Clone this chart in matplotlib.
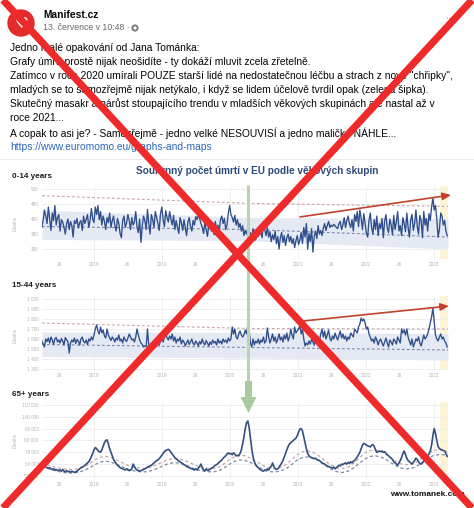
import matplotlib
matplotlib.use('Agg')
import matplotlib.pyplot as plt
import numpy as np
import pandas as pd
from matplotlib.patches import Circle, Polygon, Rectangle
from matplotlib.ticker import FuncFormatter

# ---------------- data ----------------
start_week = '2017-03-27'   # Monday of ISO week 13 / 2017, weekly data

deaths_0_14 = [
    373, 395, 430, 410, 385, 440, 400, 362, 420, 395, 445, 380, 405, 415, 360, 398, 390, 372, 350, 385,
    400, 365, 392, 378, 340, 395, 385, 402, 370, 388, 395, 362, 410, 385, 398, 415, 372, 395, 435, 400, 388,
    440, 415, 445, 398, 425, 380, 410, 392, 365, 405, 388, 420, 372, 395, 410, 378, 360, 402, 385, 352,
    338, 395, 410, 372, 388, 415, 395, 365, 405, 380, 390, 425, 372, 355, 400, 322, 378, 410, 395, 365,
    432, 385, 350, 415, 398, 372, 425, 405, 385, 362, 418, 440, 398, 375, 428, 405, 390,
    425, 400, 380, 412, 365, 395, 372, 352, 405, 388, 362, 398, 370, 345, 390, 405, 375, 360, 395, 380,
    408, 398, 415, 402, 385, 372, 352, 388, 365, 342, 378, 395, 360, 372, 348, 392, 365, 380, 355, 398,
    410, 385, 402, 365, 380, 420, 445, 415,
    405, 390, 412, 380, 398, 372, 385, 360, 378, 345, 362, 350, 372, 340, 355, 335, 368, 348, 330, 360,
    342, 375, 352, 338, 392, 365, 345, 372, 340, 358, 325, 348, 332, 360, 318, 342, 300, 338, 355, 322,
    345, 312, 338, 350, 325, 342, 318, 335, 305, 328, 345, 315,
    330, 355, 318, 372, 340, 385, 300, 352, 325, 368, 290, 342, 360, 335, 378, 350, 362, 345, 370, 385,
    362, 378, 392, 372, 380, 375, 382, 378, 372, 368, 385, 392, 365, 380, 405, 372, 395, 410, 385, 372,
    398, 360, 415, 392, 425, 375, 430, 402, 365, 418, 388, 352,
    340, 395, 420, 372, 350, 398, 365, 410, 345, 385, 368, 402, 338, 392, 415, 370, 355, 400, 380, 348,
    412, 365, 392, 425, 360, 378, 345, 405, 385, 358, 420, 372, 340, 398, 415, 362, 385, 430, 375, 350,
    412, 395, 338, 425, 380, 402, 360, 418, 395, 440, 470, 430,
    445, 400, 340, 365, 420, 410, 380, 395, 360, 345]

deaths_15_44 = [
    1580, 1550, 1520, 1600, 1575, 1610, 1560, 1620, 1590, 1545, 1600, 1615, 1570, 1590, 1560, 1605, 1580,
    1540, 1615, 1590, 1575, 1460, 1560, 1590, 1570, 1610, 1555, 1595, 1580, 1540, 1600, 1620, 1575, 1560,
    1590, 1545, 1600, 1580, 1620, 1590, 1640,
    1700, 1740, 1680, 1650, 1720, 1660, 1690, 1630, 1610, 1700,
    1640, 1610, 1585, 1620, 1600, 1570, 1610, 1590, 1640, 1580,
    1600, 1560, 1620, 1590, 1575, 1610, 1650, 1620, 1590, 1600, 1570, 1620,
    1700, 1640, 1590, 1560, 1545, 1520, 1530, 1525, 1700,
    1540, 1525, 1520, 1535, 1550, 1530, 1545, 1560, 1540, 1580, 1600, 1570, 1620, 1650, 1610, 1590,
    1630, 1600, 1650, 1580, 1620, 1560, 1600, 1580, 1620, 1550, 1590, 1570, 1530, 1560, 1590, 1545,
    1570, 1600, 1555, 1540, 1580, 1560, 1530, 1575, 1550, 1600, 1560, 1540, 1585, 1560, 1530, 1570,
    1545, 1590, 1560, 1575, 1540, 1600, 1560, 1580, 1550, 1600, 1570, 1590, 1560, 1610, 1580, 1600,
    1720, 1650, 1700, 1620, 1600, 1650, 1680, 1640, 1620, 1640, 1690, 1650, 1740, 1680, 1560, 1520,
    1600, 1540, 1580, 1560, 1600, 1550, 1590, 1570, 1620, 1560, 1580, 1710, 1620, 1560, 1600, 1650,
    1580, 1620, 1560, 1600, 1650, 1590, 1620, 1570, 1640, 1600, 1660, 1580, 1620, 1700, 1640, 1600,
    1720, 1660, 1680, 1700,
    1730, 1650, 1700, 1600, 1530, 1560, 1540, 1580, 1550, 1600, 1570, 1540, 1590, 1560, 1620, 1580,
    1650, 1700, 1620, 1680, 1600, 1640, 1690, 1610, 1580, 1630, 1600, 1660, 1620, 1590, 1640, 1680,
    1610, 1650, 1600, 1630, 1580, 1620, 1600, 1660, 1640, 1620, 1700, 1680, 1660, 1720, 1750, 1810,
    1780, 1800, 1760, 1700,
    1720, 1650, 1620, 1580, 1600, 1560, 1620, 1590, 1540, 1580, 1600, 1560, 1530, 1570, 1610, 1560,
    1520, 1590, 1570, 1540, 1600, 1580, 1550, 1620, 1590, 1560, 1700, 1660, 1690, 1640, 1700, 1620,
    1580, 1540, 1600, 1520, 1560, 1600, 1580, 1620, 1560, 1530, 1580, 1640, 1600, 1620, 1650, 1700,
    1760, 1820, 1910, 1780,
    1640, 1600, 1580, 1620, 1650, 1600, 1620, 1580, 1560, 1520]

deaths_65_k = [   # thousands
    59.5, 58.5, 58, 57.5, 57, 56.5, 57, 56, 55.5, 56, 55, 55.5, 54.5, 55,
    55, 54, 55.5, 54, 53.5, 54.5, 53.5, 54, 53, 54, 53.5, 53, 53.5,
    54, 55, 56, 57, 57.5, 58, 59, 60, 61, 62,
    64, 66.5, 69, 72, 74, 73, 71.5, 70.5, 70, 72, 75, 78, 80, 80.5,
    77, 73, 70, 67, 64, 62, 60.5, 59, 58,
    57, 56.5, 56, 55.5, 55, 56, 55, 54.5, 55, 56, 60, 58, 56, 55, 54.5, 54, 54.5,
    55, 55.5, 56, 56.5, 57.5, 58, 58.5, 59, 60, 61, 62, 63, 63.5, 64.5, 66,
    67.5, 69, 70.5, 71.5, 72, 72.5,
    71.5, 70, 68.5, 67, 65.5, 64.5, 63.5, 62.5, 62,
    61, 60.5, 59.5, 59, 58, 57.5, 57, 56.5,
    56, 55.5, 55, 56, 55, 56.5, 58, 60, 57, 55, 54.5, 56, 54.5, 55, 55.5,
    56.5, 57, 58, 59, 59.5, 60.5, 61.5, 62.5, 63.5, 65, 66, 67, 68.5, 69.5, 68.5, 69,
    68, 69.5, 68.5, 67, 67.5, 67,
    69, 72, 77, 83, 90, 95, 96.5, 91, 82, 73, 66, 62, 59.5, 58, 57,
    56, 55, 54.5, 54, 55, 54.5, 56, 55, 57, 58, 61,
    58, 56, 55.5, 56, 57.5, 59, 61, 63, 66, 69,
    72, 75, 77, 78, 79, 80, 81, 82, 84, 87, 89.5, 90, 88,
    83, 78, 73, 69, 67, 66, 65.5, 65, 64.5, 65, 64, 63.5, 63, 62,
    61, 60.5, 60, 59, 58.5, 58, 57.5,
    57, 56.5, 57.5, 56, 57, 58, 59, 58.5, 60, 59.5, 60.5, 61, 60,
    61.5, 60.5, 62, 61, 62.5, 63, 64.5, 66, 68, 70,
    73, 76, 77.5, 77, 76, 75.5, 75, 74.5, 76, 76.5, 75, 72,
    70, 70.5, 71, 70.5, 71, 70, 70.5, 69,
    68, 67, 66, 65, 64, 62, 61, 60, 59,
    61, 63, 65.5, 69, 71, 68, 65, 63, 62, 61, 60,
    61.5, 63, 65, 64, 62, 60.5,
    60, 61, 62.5, 64, 65.5, 67, 68.5, 71,
    76, 84, 90, 86, 80, 75, 73, 72.5,
    72, 71.5, 71, 69, 66.5]

# reference lines (0-14 and 15-44): values at these dates
ref_years = [2017.235, 2020.3, 2023.206]
p1_upper = [478, 452, 442]
p1_base = [375, 365, 340]
p1_band_hi = [430, 405, 402]
p1_band_lo = [332, 328, 300]
p2_upper = [1760, 1705, 1700]
p2_base = [1545, 1515, 1490]
p2_band_hi = [1670, 1665, 1655]
p2_band_lo = [1425, 1410, 1390]

# 65+ seasonal baseline / threshold (thousands), sampled every 4 weeks
base65_week = list(range(0, 309, 4)) + [311]
base65_lower = [58, 56.5, 55, 54, 53, 52.5, 52.5, 53, 54.5, 56.5, 59, 61.5, 62.5, 62, 60.5, 58.5,
                56.5, 55, 54, 53.5, 53.5, 54.5, 56, 58, 60, 61, 61, 60, 58.5, 56.5, 55, 54,
                53.5, 53.5, 54.5, 57, 60, 62.5, 63.5, 63, 61.5, 59, 56.5, 54.5, 53.5, 53.5, 54.5,
                56.5, 60, 63.5, 65.5, 66, 65, 63, 60, 57, 54.5, 53, 53, 54.5, 57.5, 61, 64.5,
                66.5, 67, 66, 64, 61, 58.5, 56.5, 56, 56.5, 58.5, 61.5, 64.5, 67, 68, 68, 67.5]
base65_upper = [61, 59.5, 58, 57, 56, 55.5, 55.5, 56, 57.5, 60, 63, 65.5, 66.5, 66, 64, 62,
                60, 58, 57, 56.5, 56.5, 57.5, 59.5, 61.5, 63.5, 64.5, 64.5, 63.5, 62, 60, 58, 57,
                56.5, 56.5, 57.5, 60.5, 64, 66.5, 67.5, 67, 65, 62.5, 60, 57.5, 56.5, 56.5, 57.5,
                60, 64, 68, 70.5, 71, 70, 67.5, 64, 60.5, 58, 56.5, 56.5, 58, 61.5, 65.5, 69.5,
                71.5, 72, 71, 68.5, 65, 62, 60, 59.5, 60, 62, 65.5, 69, 71.5, 72, 71.5, 70.5]

tick_pos = [2017.485, 2018, 2018.485, 2019, 2019.485, 2020, 2020.485, 2021, 2021.485, 2022, 2022.485, 2023]
tick_labels = ['26', '2018', '26', '2019', '26', '2020', '26', '2021', '26', '2022', '26', '2023']
year_lines = [2018, 2019, 2020, 2021, 2022, 2023]
green_marker_year = 2020.265
trend_arrow_1 = [(2021.03, 407), (2023.25, 480)]
trend_arrow_2 = [(2021.08, 1780), (2023.22, 1930)]

header_name = 'Manifest.cz'
header_date = '13. července v 10:48 ·'
body_lines = [
    'Jedno malé opakování od Jana Tománka:',
    'Grafy úmrtí prostě nijak neošidíte - ty dokáží mluvit zcela zřetelně.',
    'Zatímco v roce 2020 umírali POUZE starší lidé na nedostatečnou léčbu a strach z nové "chřipky",',
    'mladých se to samozřejmě nijak netýkalo, i když se lidem účelově tvrdil opak (zelená šipka).',
    'Skutečný masakr a nárůst stoupajícího trendu v mladších věkových skupinách ale nastal až v',
    'roce 2021...',
    'A copak to asi je? - Samozřejmě - jedno velké NESOUVISÍ a jedno maličké NÁHLE...',
]
body_url = 'https://www.euromomo.eu/graphs-and-maps'
chart_title = 'Souhrnný počet úmrtí v EU podle věkových skupin'
panel_titles = ['0-14 years', '15-44 years', '65+ years']
credit = 'www.tomanek.com'

# ---------------- figure ----------------
W, H = 474, 508
plt.rcParams['font.family'] = ['Liberation Sans', 'DejaVu Sans']
fig = plt.figure(figsize=(W / 100, H / 100), dpi=100)
fig.patch.set_facecolor('white')

XL = (2018 + (42 - 94) / 68, 2018 + (448 - 94) / 68)


def to_years(n):
    d = pd.Timestamp(start_week) + pd.to_timedelta(np.arange(n) * 7, unit='D')
    ylen = np.where(d.is_leap_year, 366, 365)
    return d.year + (d.dayofyear - 1) / ylen


def fmt(v, p):
    return f'{int(round(v)):,}'.replace(',', ' ')


def panel(top, bottom, ylim, yticks):
    ax = fig.add_axes([42 / W, 1 - bottom / H, (448 - 42) / W, (bottom - top) / H])
    ax.set_xlim(XL)
    ax.set_ylim(ylim)
    ax.set_facecolor('white')
    for s in ax.spines.values():
        s.set_visible(False)
    ax.set_yticks(yticks)
    ax.yaxis.set_major_formatter(FuncFormatter(fmt))
    ax.set_xticks(tick_pos)
    ax.set_xticklabels(tick_labels)
    ax.tick_params(length=0, labelsize=3.4, labelcolor='#b5b5b5', pad=2.5)
    ax.grid(axis='y', color='#ededed', lw=0.6, zorder=0)
    for yv in year_lines:
        ax.axvline(yv, color='#ececec', lw=0.6, zorder=0)
    ax.axvspan(2023.09, XL[1], color='#fcf4d4', lw=0, zorder=0.5)
    ax.set_axisbelow(True)
    return ax


line_col = '#2e4d8a'
up_col = '#c8a7ab'
base_col = '#7e89a6'
band_col = '#e4e9f4'

# panel 1
ax1 = panel(186, 259, (267, 510), [300, 350, 400, 450, 500])
ax1.fill_between(ref_years, p1_band_lo, p1_band_hi, color=band_col, lw=0, zorder=1)
ax1.plot(ref_years, p1_upper, ls=(0, (2.5, 2)), color=up_col, lw=0.8, zorder=2)
ax1.plot(ref_years, p1_base, ls=(0, (2.5, 2)), color=base_col, lw=0.8, zorder=2)
ax1.plot(to_years(len(deaths_0_14)), deaths_0_14, color=line_col, lw=0.95, zorder=3)
ax1.annotate('', xy=trend_arrow_1[1], xytext=trend_arrow_1[0], annotation_clip=False,
             arrowprops=dict(arrowstyle='-|>,head_length=0.5,head_width=0.22', color='#c2422e', lw=1.2,
                             shrinkA=0, shrinkB=0), zorder=5)

# panel 2
ax2 = panel(296, 370, (1290, 2030), list(range(1300, 2001, 100)))
ax2.fill_between(ref_years, p2_band_lo, p2_band_hi, color=band_col, lw=0, zorder=1)
ax2.plot(ref_years, p2_upper, ls=(0, (2.5, 2)), color=up_col, lw=0.8, zorder=2)
ax2.plot(ref_years, p2_base, ls=(0, (2.5, 2)), color=base_col, lw=0.8, zorder=2)
ax2.plot(to_years(len(deaths_15_44)), deaths_15_44, color=line_col, lw=0.95, zorder=3)
ax2.annotate('', xy=trend_arrow_2[1], xytext=trend_arrow_2[0], annotation_clip=False,
             arrowprops=dict(arrowstyle='-|>,head_length=0.5,head_width=0.22', color='#c2422e', lw=1.2,
                             shrinkA=0, shrinkB=0), zorder=5)

# panel 3
ax3 = panel(402, 479, (47400, 112500), list(range(50000, 110001, 10000)))
bx = to_years(312)[base65_week]
ax3.plot(bx, np.array(base65_upper) * 1000, ls=(0, (2.5, 2)), color=up_col, lw=0.9, zorder=2)
ax3.plot(bx, np.array(base65_lower) * 1000, ls=(0, (2.5, 2)), color=base_col, lw=0.9, zorder=2)
ax3.plot(to_years(len(deaths_65_k)), np.array(deaths_65_k) * 1000, color='#34507e', lw=1.2, zorder=3)

# ---------------- overlay (pixel coordinates) ----------------
ov = fig.add_axes([0, 0, 1, 1], zorder=10)
ov.set_xlim(0, W)
ov.set_ylim(H, 0)
ov.axis('off')
ov.patch.set_alpha(0)

fig.canvas.draw()
R = fig.canvas.get_renderer()


def fit(t, width):
    w = t.get_window_extent(R).width
    t.set_fontsize(t.get_fontsize() * width / w)
    return t.get_fontsize()


# logo
ov.add_patch(Circle((21, 23), 13, color='#e42b2b', zorder=3))
ov.text(21, 23.5, '♥', ha='center', va='center', color='white', fontsize=11,
        family='DejaVu Sans', zorder=4)
t = ov.text(43, 15, header_name, ha='left', va='center', fontsize=8, fontweight='bold', color='#050505')
fit(t, 56)
t = ov.text(43, 28, header_date, ha='left', va='center', fontsize=6.5, color='#65676b')
fit(t, 86)
ov.add_patch(Circle((135, 28), 3.6, facecolor='#7a7d82', edgecolor='none', zorder=3))
ov.add_patch(Circle((135, 28), 1.6, facecolor='white', edgecolor='none', zorder=4))
ov.text(451, 19, '···', ha='center', va='center', fontsize=7, color='#65676b')

# body text
ys = [48.3, 62, 76, 90, 104, 118, 133, 146.5]
tt = []
for y, s in zip(ys, body_lines):
    tt.append(ov.text(10, y, s, ha='left', va='center', fontsize=7, color='#050505'))
fs = fit(tt[2], 445)
for t in tt:
    t.set_fontsize(fs)
ov.text(10, ys[-1], body_url, ha='left', va='center', fontsize=fs, color='#2f66bd')

# separator between text and chart screenshot
ov.plot([0, W], [159, 159], color='#e6e6e6', lw=0.6, zorder=1)

# chart title and panel labels
t = ov.text(257, 170.5, chart_title, ha='center', va='center', fontsize=8, fontweight='bold',
            color='#2d4a78')
fit(t, 243)
for (y, w), s in zip([(176.5, 40), (285.5, 44.5), (395, 37.5)], panel_titles):
    t = ov.text(12.5, y, s, ha='left', va='center', fontsize=5, fontweight='bold', color='#1f1f1f')
    fit(t, w)
for y in [223, 335, 440]:
    ov.text(15, y, 'Deaths', ha='center', va='center', rotation=90, fontsize=3.4, color='#b5b5b5')
t = ov.text(465, 495, credit, ha='right', va='center', fontsize=6, fontweight='bold', color='#111111')
fit(t, 76)

# green marker line and arrow
ov.plot([248.5, 248.5], [185, 382], color='#bad2b0', lw=2.2, zorder=2, solid_capstyle='butt')
ov.add_patch(Rectangle((245, 381), 7, 17, color='#abc99f', lw=0, zorder=2))
ov.add_patch(Polygon([(240.5, 397), (256.5, 397), (248.5, 413)], closed=True, color='#abc99f',
                     lw=0, zorder=2))

# big red X
ov.plot([3, 472], [0, 508], color='#ef2a2a', lw=5.2, solid_capstyle='butt', zorder=20)
ov.plot([472, 3], [0, 508], color='#ef2a2a', lw=5.2, solid_capstyle='butt', zorder=20)

fig.savefig('out.png', dpi=100, facecolor='white')
